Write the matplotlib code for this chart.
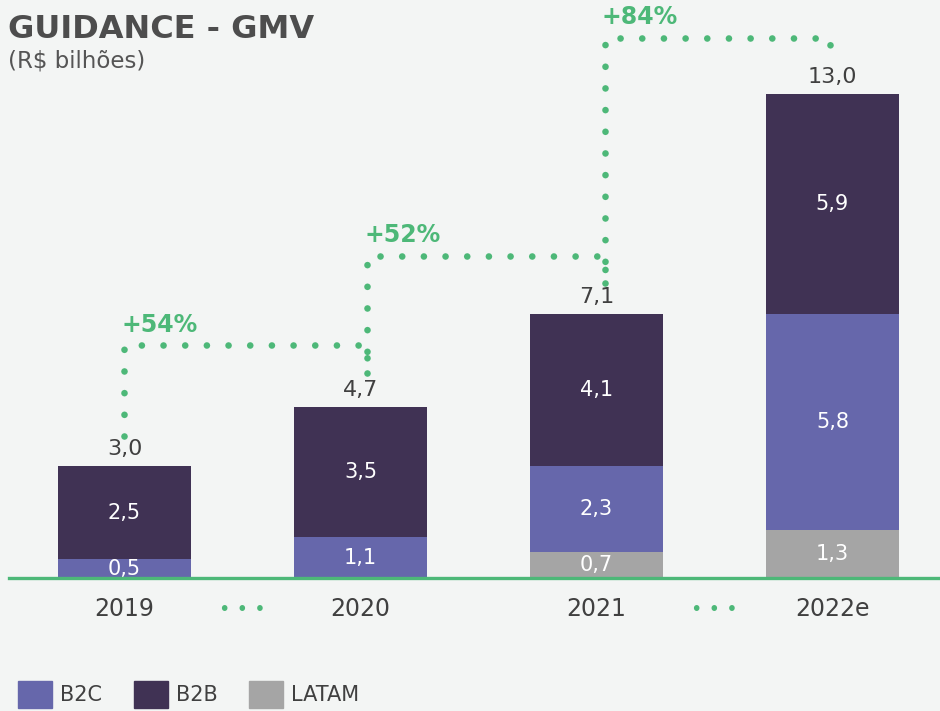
import numpy as np
import matplotlib
matplotlib.use('Agg')
import matplotlib.pyplot as plt
from matplotlib.patches import Patch

# GMV guidance (R$ bilhões)
years = ['2019', '2020', '2021', '2022e']
latam = [0.0, 0.0, 0.7, 1.3]
b2c = [0.5, 1.1, 2.3, 5.8]
b2b = [2.5, 3.5, 4.1, 5.9]
totals = [3.0, 4.7, 7.1, 13.0]
growth = ['+54%', '+52%', '+84%']
growth_level = [6.26, 8.66, 14.52]

bg = '#f3f5f4'
c_b2c = '#6667ab'
c_b2b = '#403254'
c_latam = '#a5a5a5'
green = '#4db878'
txt = '#404040'

plt.rcParams['font.family'] = 'DejaVu Sans'

fig = plt.figure(figsize=(9.4, 7.11), dpi=100, facecolor=bg)
ax = fig.add_axes([0, 133 / 711, 1, 558 / 711])
ax.set_facecolor(bg)

x = np.arange(len(years))
w = 0.564
lat = np.array(latam)
bc = np.array(b2c)
bb = np.array(b2b)
ax.bar(x, lat, w, color=c_latam, zorder=2)
ax.bar(x, bc, w, bottom=lat, color=c_b2c, zorder=2)
ax.bar(x, bb, w, bottom=lat + bc, color=c_b2b, zorder=2)

def fmt(v):
    return ('%.1f' % v).replace('.', ',')

# labels inside segments
for i in range(len(years)):
    segs = [(latam[i], 0), (b2c[i], latam[i]), (b2b[i], latam[i] + b2c[i])]
    for v, base in segs:
        if v > 0:
            ax.text(x[i], base + v / 2, fmt(v), ha='center', va='center',
                    color='white', fontsize=15, zorder=3)
    ax.text(x[i], lat[i] + bc[i] + bb[i] + 0.3, fmt(totals[i]), ha='center',
            va='baseline', color=txt, fontsize=16, zorder=3)

# growth connectors
conn_off = [0.0, 0.028, 0.036, -0.01]
for i in range(3):
    x0 = x[i] + conn_off[i]
    x1 = x[i + 1] + conn_off[i + 1]
    y0 = totals[i] + 0.82
    y1 = totals[i + 1] + 0.9
    h = growth_level[i]
    ax.plot([x0, x0, x1, x1], [y0, h, h, y1], color=green, lw=4.8,
            linestyle=(0, (0.001, 3.25)), dash_capstyle='round', zorder=1)
    ax.text(x0 - 0.013, h + 0.55, growth[i], ha='left', va='center',
            color=green, fontsize=17, fontweight='bold')

# dots between year labels
for xm in [0.5, 2.5]:
    ax.text(xm, -0.84, '• • •', ha='center', va='center', color=green,
            fontsize=14, clip_on=False)

ax.axhline(0, xmin=9 / 940, xmax=1, color=green, lw=2.4, zorder=4,
           clip_on=False)

ax.set_xlim(-124.5 / 236, (940 - 124.5) / 236)
ax.set_ylim(0, 15)
ax.set_xticks(x)
ax.set_xticklabels(years, fontsize=17, color=txt)
ax.tick_params(axis='x', length=0, pad=14)
ax.set_yticks([])
for s in ax.spines.values():
    s.set_visible(False)

fig.text(8 / 940, 1 - 29 / 711, 'GUIDANCE - GMV', fontsize=23, fontweight='bold',
         color='#4d4d4d', va='center', ha='left')
fig.text(8 / 940, 1 - 61 / 711, '(R$ bilhões)', fontsize=16.5, color='#555555',
         va='center', ha='left')

handles = [Patch(color=c_b2c, label='B2C'), Patch(color=c_b2b, label='B2B'),
           Patch(color=c_latam, label='LATAM')]
fig.legend(handles=handles, loc='lower left', bbox_to_anchor=(18 / 940, 3 / 711),
           ncol=3, frameon=False, fontsize=15, handlelength=1.63,
           handleheight=1.63, handletextpad=0.4, columnspacing=1.5,
           borderpad=0, borderaxespad=0, labelcolor=txt)

fig.savefig('out.png', dpi=100, facecolor=bg)
